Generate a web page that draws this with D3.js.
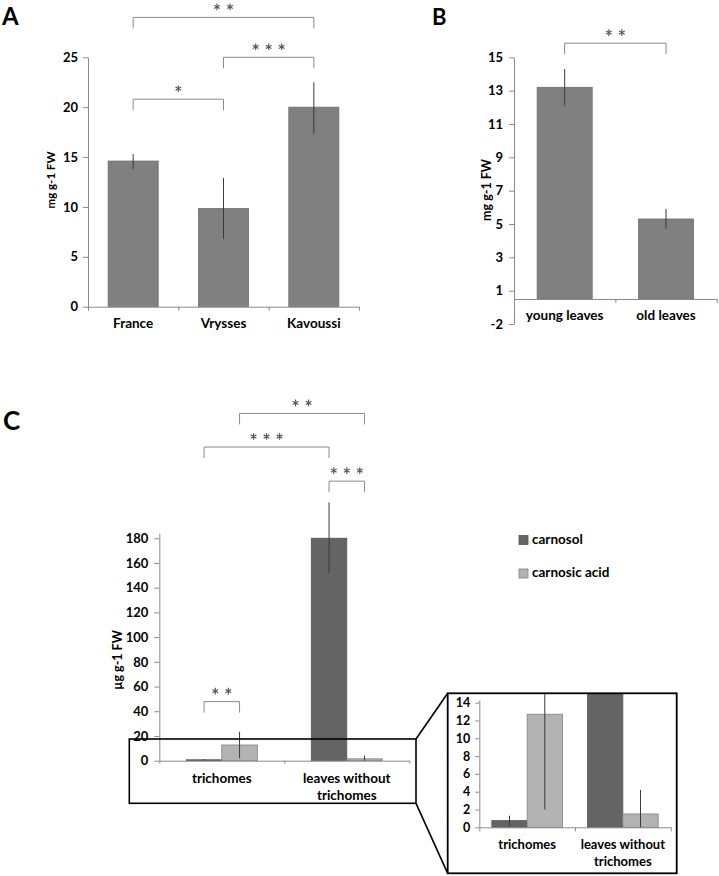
<!DOCTYPE html>
<html><head><meta charset="utf-8">
<script src="https://cdn.jsdelivr.net/npm/d3@7"></script>
<style>
body{margin:0;background:#fff}
svg{display:block}
text{font-family:Lato,"Open Sans",sans-serif;font-weight:bold;fill:#000}
</style>
</head><body>
<svg id="chart" width="719" height="876"></svg>
<script>
// ---------- Panel A ----------
const catsA = ["France", "Vrysses", "Kavoussi"];
const valsA = [14.6, 9.85, 20.0];
const errLowA = [13.8, 6.8, 17.3];
const errHighA = [15.3, 12.9, 22.5];
const ticksA = [0, 5, 10, 15, 20, 25];
const sigA = [
  {a: 0, b: 2, y: 29.0, stars: 2},
  {a: 1, b: 2, y: 25.0, stars: 3},
  {a: 0, b: 1, y: 20.8, stars: 1}
];

// ---------- Panel B ----------
const catsB = ["young leaves", "old leaves"];
const valsB = [13.2, 5.3];
const errLowB = [12.1, 4.7];
const errHighB = [14.3, 5.9];
const tickValsB = [-1, 1, 3, 5, 7, 9, 11, 13, 15];
const tickLabelsB = ["-2", "1", "3", "5", "7", "9", "11", "13", "15"];
const crossB = 0.5;
const sigB = [{a: 0, b: 1, y: 15.85, stars: 2}];

// ---------- Panel C ----------
const groupsC = ["trichomes", "leaves without trichomes"];
const groupLinesC = [["trichomes"], ["leaves without", "trichomes"]];
const seriesC = ["carnosol", "carnosic acid"];
const carnosol = [0.75, 180];
const carnosolLow = [0.2, 152];
const carnosolHigh = [1.3, 209];
const carnosicAcid = [12.7, 1.5];
const carnosicLow = [2.0, -1.2];
const carnosicHigh = [23.4, 4.2];
const ticksC = [0, 20, 40, 60, 80, 100, 120, 140, 160, 180];
const ticksInset = [0, 2, 4, 6, 8, 10, 12, 14];
const sigC = [
  {a: [0, 1], b: [1, 1], y: 281, stars: 2},
  {a: [0, 0], b: [1, 0], y: 253.8, stars: 3},
  {a: [1, 0], b: [1, 1], y: 226.2, stars: 3},
  {a: [0, 0], b: [0, 1], y: 47.8, stars: 2}
];

const colA = "#808080", colDark = "#646464", colLight = "#b3b3b3";
const axisCol = "#8a8a8a", errCol = "#3a3a3a", sigCol = "#8a8a8a";

const svg = d3.select("#chart");

function styleAxis(g, fs) {
  g.select(".domain").attr("stroke", axisCol);
  g.selectAll(".tick line").attr("stroke", axisCol);
  g.selectAll(".tick text").style("font-size", fs + "px").attr("fill", "#000")
    .style("font-family", "Lato, 'Open Sans', sans-serif").style("font-weight", "bold");
}

function catAxis(g, xs, yPos, n, len) {
  const lin = d3.scaleLinear().domain([0, n]).range(xs.range());
  const ax = g.append("g").attr("transform", `translate(0,${yPos})`)
    .call(d3.axisBottom(lin).tickValues(d3.range(n + 1)).tickFormat(() => "").tickSize(len).tickSizeOuter(0));
  styleAxis(ax, 12);
  return ax;
}

function drawStars(g, cx, cy, n) {
  const sp = 13;
  for (let i = 0; i < n; i++) {
    g.append("path")
      .attr("d", d3.symbol(d3.symbolAsterisk, 30)())
      .attr("transform", `translate(${cx + (i - (n - 1) / 2) * sp},${cy})`)
      .attr("fill", "none").attr("stroke", "#5a5a5a").attr("stroke-width", 1.2);
  }
}

function bracket(g, x1, x2, yy, n) {
  const leg = 11;
  g.append("path")
    .attr("d", `M${x1},${yy + leg}V${yy}H${x2}V${yy + leg}`)
    .attr("fill", "none").attr("stroke", sigCol).attr("stroke-width", 1);
  drawStars(g, (x1 + x2) / 2, yy - 10.5, n);
}

// ================= PANEL A =================
{
  const g = svg.append("g");
  const y = d3.scaleLinear().domain([0, 25]).range([306.7, 57.3]);
  const x = d3.scaleBand().domain(catsA).range([88, 359]).paddingInner(0.446).paddingOuter(0.223);

  const ya = g.append("g").attr("transform", "translate(88,0)")
    .call(d3.axisLeft(y).tickValues(ticksA).tickSize(5).tickSizeOuter(0).tickPadding(5));
  styleAxis(ya, 13);

  g.selectAll("rect.bar").data(catsA).join("rect")
    .attr("x", d => x(d)).attr("width", x.bandwidth())
    .attr("y", (d, i) => y(valsA[i])).attr("height", (d, i) => y(0) - y(valsA[i]))
    .attr("fill", colA).attr("stroke", "#6e6e6e").attr("stroke-width", 0.8);

  g.selectAll("line.err").data(catsA).join("line")
    .attr("x1", d => x(d) + x.bandwidth() / 2).attr("x2", d => x(d) + x.bandwidth() / 2)
    .attr("y1", (d, i) => y(errLowA[i])).attr("y2", (d, i) => y(errHighA[i]))
    .attr("stroke", errCol).attr("stroke-width", 1);

  catAxis(g, x, y(0), catsA.length, 4);

  g.selectAll("text.cat").data(catsA).join("text")
    .attr("x", d => x(d) + x.bandwidth() / 2).attr("y", 325)
    .attr("text-anchor", "middle").attr("dominant-baseline", "middle")
    .style("font-size", "13.5px").text(d => d);

  g.append("text").attr("transform", "translate(52,180) rotate(-90)")
    .attr("text-anchor", "middle").attr("dominant-baseline", "middle")
    .style("font-size", "11.5px").text("mg g-1 FW");

  sigA.forEach(s => bracket(g, x(catsA[s.a]) + x.bandwidth() / 2, x(catsA[s.b]) + x.bandwidth() / 2, y(s.y), s.stars));

  g.append("text").attr("x", 2).attr("y", 25).style("font-size", "24px").text("A");
}

// ================= PANEL B =================
{
  const g = svg.append("g");
  const y = d3.scaleLinear().domain([-1, 15]).range([324, 57.3]);
  const x = d3.scaleBand().domain(catsB).range([514, 716.7]).paddingInner(0.457).paddingOuter(0.2285);

  const ya = g.append("g").attr("transform", "translate(514,0)")
    .call(d3.axisLeft(y).tickValues(tickValsB).tickFormat((d, i) => tickLabelsB[i]).tickSize(5).tickSizeOuter(0).tickPadding(6));
  styleAxis(ya, 13);

  g.selectAll("rect.bar").data(catsB).join("rect")
    .attr("x", d => x(d)).attr("width", x.bandwidth())
    .attr("y", (d, i) => y(valsB[i])).attr("height", (d, i) => y(crossB) - y(valsB[i]))
    .attr("fill", colA).attr("stroke", "#6e6e6e").attr("stroke-width", 0.8);

  g.selectAll("line.err").data(catsB).join("line")
    .attr("x1", d => x(d) + x.bandwidth() / 2).attr("x2", d => x(d) + x.bandwidth() / 2)
    .attr("y1", (d, i) => y(errLowB[i])).attr("y2", (d, i) => y(errHighB[i]))
    .attr("stroke", errCol).attr("stroke-width", 1);

  catAxis(g, x, y(crossB), catsB.length, 4);

  g.selectAll("text.cat").data(catsB).join("text")
    .attr("x", d => x(d) + x.bandwidth() / 2).attr("y", 316.5)
    .attr("text-anchor", "middle").attr("dominant-baseline", "middle")
    .style("font-size", "13.5px").text(d => d);

  g.append("text").attr("transform", "translate(488,190) rotate(-90)")
    .attr("text-anchor", "middle").attr("dominant-baseline", "middle")
    .style("font-size", "12.5px").text("mg g-1 FW");

  sigB.forEach(s => bracket(g, x(catsB[s.a]) + x.bandwidth() / 2, x(catsB[s.b]) + x.bandwidth() / 2, y(s.y), s.stars));

  g.append("text").attr("x", 432).attr("y", 25).style("font-size", "22px").text("B");
}

// ================= PANEL C =================
const valsC = [carnosol, carnosicAcid];
const lowC = [carnosolLow, carnosicLow];
const highC = [carnosolHigh, carnosicHigh];
const colsC = [colDark, colLight];
const strokeC = ["#555", "#808080"];

function groupedBars(g, x, xs, y, clipId) {
  const gg = g.append("g");
  if (clipId) gg.attr("clip-path", `url(#${clipId})`);
  groupsC.forEach((grp, gi) => {
    seriesC.forEach((s, si) => {
      const bx = x(grp) + xs(s);
      gg.append("rect").attr("x", bx).attr("width", xs.bandwidth())
        .attr("y", y(valsC[si][gi])).attr("height", y(0) - y(valsC[si][gi]))
        .attr("fill", colsC[si]).attr("stroke", strokeC[si]).attr("stroke-width", 0.8);
    });
  });
  groupsC.forEach((grp, gi) => {
    seriesC.forEach((s, si) => {
      const cx = x(grp) + xs(s) + xs.bandwidth() / 2;
      gg.append("line").attr("x1", cx).attr("x2", cx)
        .attr("y1", y(Math.max(0, lowC[si][gi]))).attr("y2", y(highC[si][gi]))
        .attr("stroke", errCol).attr("stroke-width", 1);
    });
  });
}

{
  const g = svg.append("g");
  const y = d3.scaleLinear().domain([0, 184]).range([760.7, 533.3]);
  const x = d3.scaleBand().domain(groupsC).range([159.3, 409.3]).paddingInner(0.432).paddingOuter(0.216);
  const xs = d3.scaleBand().domain(seriesC).range([0, x.bandwidth()]);

  const ya = g.append("g").attr("transform", "translate(159.3,0)")
    .call(d3.axisLeft(y).tickValues(ticksC).tickSize(5).tickSizeOuter(0).tickPadding(6));
  styleAxis(ya, 13);

  groupedBars(g, x, xs, y, null);
  catAxis(g, x, y(0), groupsC.length, 3);

  groupsC.forEach((grp, gi) => {
    groupLinesC[gi].forEach((ln, li) => {
      g.append("text").attr("x", x(grp) + x.bandwidth() / 2).attr("y", 780 + li * 17)
        .attr("text-anchor", "middle").attr("dominant-baseline", "middle")
        .style("font-size", "13.5px").text(ln);
    });
  });

  g.append("text").attr("transform", "translate(119,660) rotate(-90)")
    .attr("text-anchor", "middle").attr("dominant-baseline", "middle")
    .style("font-size", "12.5px").text("µg g-1 FW");

  sigC.forEach(s => {
    const x1 = x(groupsC[s.a[0]]) + xs(seriesC[s.a[1]]) + xs.bandwidth() / 2;
    const x2 = x(groupsC[s.b[0]]) + xs(seriesC[s.b[1]]) + xs.bandwidth() / 2;
    bracket(g, x1, x2, y(s.y), s.stars);
  });

  // legend
  const lg = g.append("g");
  seriesC.forEach((s, i) => {
    lg.append("rect").attr("x", 519).attr("y", 535.5 + i * 33.5).attr("width", 9).attr("height", 9)
      .attr("fill", colsC[i]).attr("stroke", strokeC[i]).attr("stroke-width", 0.8);
    lg.append("text").attr("x", 532).attr("y", 540.5 + i * 33.5).attr("dominant-baseline", "middle")
      .style("font-size", "13.5px").text(s);
  });

  // zoom highlight box and connectors
  g.append("rect").attr("x", 129.3).attr("y", 739).attr("width", 286.7).attr("height", 64.3)
    .attr("fill", "none").attr("stroke", "#000").attr("stroke-width", 1.6);
  g.append("line").attr("x1", 416).attr("y1", 739).attr("x2", 447.7).attr("y2", 693.3)
    .attr("stroke", "#000").attr("stroke-width", 1.6);
  g.append("line").attr("x1", 416).attr("y1", 803.3).attr("x2", 447.7).attr("y2", 873.3)
    .attr("stroke", "#000").attr("stroke-width", 1.6);

  g.append("text").attr("x", 3).attr("y", 430).style("font-size", "26px").text("C");
}

// ================= INSET =================
{
  const g = svg.append("g");
  g.append("rect").attr("x", 447.7).attr("y", 693.3).attr("width", 229).attr("height", 180)
    .attr("fill", "#fff").attr("stroke", "none");
  svg.append("defs").append("clipPath").attr("id", "insetClip")
    .append("rect").attr("x", 447.7).attr("y", 693.3).attr("width", 229).attr("height", 180);

  const y = d3.scaleLinear().domain([0, 14.3]).range([827.3, 700]);
  const x = d3.scaleBand().domain(groupsC).range([479.3, 670.7]).paddingInner(0.262).paddingOuter(0.131);
  const xs = d3.scaleBand().domain(seriesC).range([0, x.bandwidth()]);

  const ya = g.append("g").attr("transform", "translate(479.3,0)")
    .call(d3.axisLeft(y).tickValues(ticksInset).tickSize(4).tickSizeOuter(0).tickPadding(5));
  styleAxis(ya, 12.5);

  groupedBars(g, x, xs, y, "insetClip");
  catAxis(g, x, y(0), groupsC.length, 4);

  groupsC.forEach((grp, gi) => {
    groupLinesC[gi].forEach((ln, li) => {
      g.append("text").attr("x", x(grp) + x.bandwidth() / 2).attr("y", 845.7 + li * 17)
        .attr("text-anchor", "middle").attr("dominant-baseline", "middle")
        .style("font-size", "13px").text(ln);
    });
  });

  g.append("rect").attr("x", 447.7).attr("y", 693.3).attr("width", 229).attr("height", 180)
    .attr("fill", "none").attr("stroke", "#000").attr("stroke-width", 1.8);
}
</script>
</body></html>
